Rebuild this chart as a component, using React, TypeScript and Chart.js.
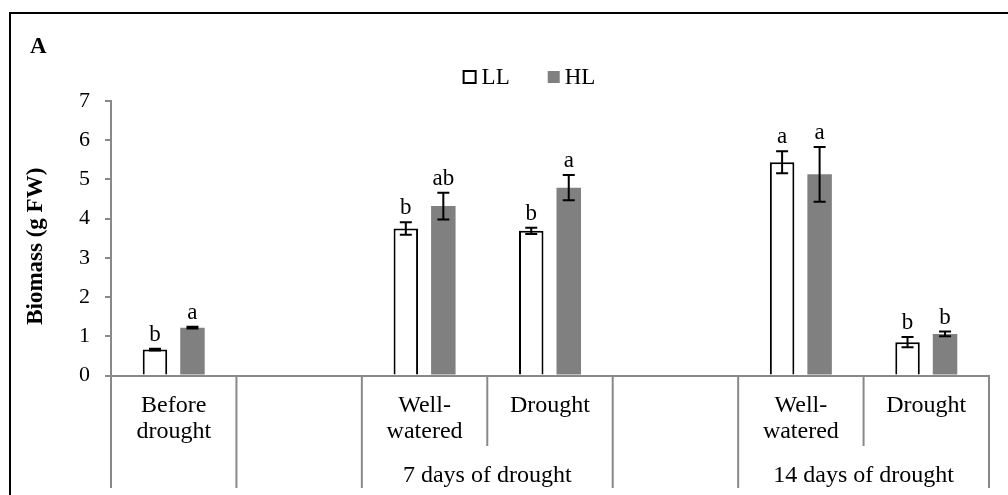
import { useEffect, useRef } from 'react';
import { Chart, registerables } from 'chart.js';

Chart.register(...registerables);

// Treatment categories (first axis level); empty entries are spacer columns.
const categories: string[][] = [
  ['Before', 'drought'],
  [],
  ['Well-', 'watered'],
  ['Drought'],
  [],
  ['Well-', 'watered'],
  ['Drought'],
];

// Second axis level: which categories each period spans.
const periodGroups = [
  { label: '7 days of drought', first: 2, last: 3 },
  { label: '14 days of drought', first: 5, last: 6 },
];

const seriesNames = ['LL', 'HL'];

// Biomass (g FW), mean and error per category.
const llValues = [0.66, null, 3.75, 3.69, null, 5.44, 0.85];
const hlValues = [1.22, null, 4.32, 4.79, null, 5.13, 1.06];
const llErrors = [0.02, null, 0.16, 0.08, null, 0.28, 0.13];
const hlErrors = [0.02, null, 0.34, 0.32, null, 0.7, 0.06];

// Significance letters shown above each bar.
const llLetters = ['b', '', 'b', 'b', '', 'a', 'b'];
const hlLetters = ['a', '', 'ab', 'a', '', 'a', 'b'];

const yMin = 0;
const yMax = 7;
const yStep = 1;

const panelLetter = 'A';
const yTitle = 'Biomass (g FW)';

const SERIF = '"Liberation Serif", "Times New Roman", serif';
const AXIS_GREY = '#898989';
const HL_FILL = '#808080';

const CANVAS_W = 1036;
const CANVAS_H = 490;

const errorSets = [llErrors, hlErrors];
const letterSets = [llLetters, hlLetters];

const annotatePlugin = {
  id: 'annotate',
  afterDatasetsDraw(chart: any) {
    const { ctx } = chart;
    const y = chart.scales.y;
    ctx.save();
    ctx.strokeStyle = '#000';
    ctx.fillStyle = '#000';
    ctx.lineWidth = 2;
    ctx.font = `23px ${SERIF}`;
    ctx.textAlign = 'center';
    ctx.textBaseline = 'alphabetic';
    chart.data.datasets.forEach((ds: any, di: number) => {
      const meta = chart.getDatasetMeta(di);
      meta.data.forEach((bar: any, i: number) => {
        const v = ds.data[i];
        const e = errorSets[di][i];
        if (v == null || e == null) return;
        const top = y.getPixelForValue(v + e);
        const bot = y.getPixelForValue(v - e);
        const x = bar.x;
        ctx.beginPath();
        ctx.moveTo(x, top);
        ctx.lineTo(x, bot);
        ctx.moveTo(x - 6, top);
        ctx.lineTo(x + 6, top);
        ctx.moveTo(x - 6, bot);
        ctx.lineTo(x + 6, bot);
        ctx.stroke();
        const letter = letterSets[di][i];
        if (letter) ctx.fillText(letter, x, top - 8);
      });
    });
    ctx.restore();
  },
  afterDraw(chart: any) {
    const { ctx, chartArea } = chart;
    const x = chart.scales.x;
    const n = categories.length;
    const half = (x.getPixelForValue(1) - x.getPixelForValue(0)) / 2;

    ctx.save();

    // Category dividers below the axis
    ctx.strokeStyle = AXIS_GREY;
    ctx.lineWidth = 2;
    for (let i = 0; i <= n; i++) {
      const px = i === 0 ? x.getPixelForValue(0) - half : x.getPixelForValue(i - 1) + half;
      const inner = periodGroups.some((g) => i > g.first && i <= g.last);
      ctx.beginPath();
      ctx.moveTo(px, chartArea.bottom);
      ctx.lineTo(px, chartArea.bottom + (inner ? 70.5 : 112.5));
      ctx.stroke();
    }

    // First-level category labels
    ctx.fillStyle = '#000';
    ctx.font = `24px ${SERIF}`;
    ctx.textAlign = 'center';
    ctx.textBaseline = 'alphabetic';
    categories.forEach((lines, i) => {
      const cx = x.getPixelForValue(i);
      lines.forEach((line, li) => {
        ctx.fillText(line, cx, chartArea.bottom + 36 + li * 26.5);
      });
    });

    // Second-level period labels
    periodGroups.forEach((g) => {
      const cx = (x.getPixelForValue(g.first) + x.getPixelForValue(g.last)) / 2;
      ctx.fillText(g.label, cx, chartArea.bottom + 106);
    });

    // Legend
    ctx.font = `23px ${SERIF}`;
    ctx.textAlign = 'left';
    const llW = ctx.measureText(seriesNames[0]).width;
    const hlW = ctx.measureText(seriesNames[1]).width;
    const total = 14 + 5 + llW + 38 + 12 + 5 + hlW;
    let lx = CANVAS_W / 2 - total / 2;
    const boxTop = 56;
    const textBase = 70;
    ctx.strokeStyle = '#000';
    ctx.lineWidth = 2;
    ctx.fillStyle = '#fff';
    ctx.fillRect(lx + 1, boxTop + 1, 12, 12);
    ctx.strokeRect(lx + 1, boxTop + 1, 12, 12);
    lx += 14 + 5;
    ctx.fillStyle = '#000';
    ctx.fillText(seriesNames[0], lx, textBase);
    lx += llW + 38;
    ctx.fillStyle = HL_FILL;
    ctx.fillRect(lx, boxTop + 1, 12, 12);
    lx += 12 + 5;
    ctx.fillStyle = '#000';
    ctx.fillText(seriesNames[1], lx, textBase);

    // Panel letter
    ctx.font = `bold 23px ${SERIF}`;
    ctx.fillText(panelLetter, 19, 39);

    // Y-axis title
    ctx.save();
    ctx.translate(25, (chartArea.top + chartArea.bottom) / 2 + 8);
    ctx.rotate(-Math.PI / 2);
    ctx.textAlign = 'center';
    ctx.textBaseline = 'middle';
    ctx.fillText(yTitle, 0, 0);
    ctx.restore();

    ctx.restore();
  },
};

export default function App() {
  const canvasRef = useRef<HTMLCanvasElement | null>(null);

  useEffect(() => {
    const canvas = canvasRef.current;
    if (!canvas) return;
    const chart = new Chart(canvas, {
      type: 'bar',
      data: {
        labels: categories.map((c) => c.join(' ')),
        datasets: [
          {
            label: seriesNames[0],
            data: llValues,
            backgroundColor: '#ffffff',
            borderColor: '#000000',
            borderWidth: 2,
          },
          {
            label: seriesNames[1],
            data: hlValues,
            backgroundColor: HL_FILL,
            borderWidth: 0,
          },
        ],
      },
      options: {
        responsive: false,
        animation: false,
        devicePixelRatio: 1,
        layout: { padding: { top: 87, right: 58, bottom: 0, left: 0 } },
        datasets: { bar: { categoryPercentage: 0.598, barPercentage: 0.653 } },
        plugins: {
          legend: { display: false },
          tooltip: { enabled: false },
        },
        scales: {
          x: {
            type: 'category',
            offset: true,
            grid: { display: false },
            border: { display: true, color: AXIS_GREY, width: 2 },
            ticks: { display: false },
            afterFit: (s: any) => {
              s.height = 128.5;
            },
          },
          y: {
            min: yMin,
            max: yMax,
            ticks: {
              stepSize: yStep,
              padding: 15,
              color: '#000',
              font: { family: SERIF, size: 22 },
            },
            grid: {
              drawOnChartArea: false,
              drawTicks: true,
              tickLength: 6,
              color: AXIS_GREY,
              lineWidth: 2,
            },
            border: { color: AXIS_GREY, width: 2 },
            afterFit: (s: any) => {
              s.width = 100;
            },
          },
        },
      },
      plugins: [annotatePlugin],
    } as any);
    return () => chart.destroy();
  }, []);

  return (
    <div
      style={{
        position: 'fixed',
        left: 0,
        top: 0,
        width: 1008,
        height: 495,
        overflow: 'hidden',
        background: '#fff',
      }}
    >
      <div
        style={{
          position: 'absolute',
          left: 9,
          top: 12,
          width: CANVAS_W,
          height: CANVAS_H,
          border: '2px solid #000',
        }}
      >
        <canvas ref={canvasRef} width={CANVAS_W} height={CANVAS_H} style={{ display: 'block' }} />
      </div>
    </div>
  );
}
